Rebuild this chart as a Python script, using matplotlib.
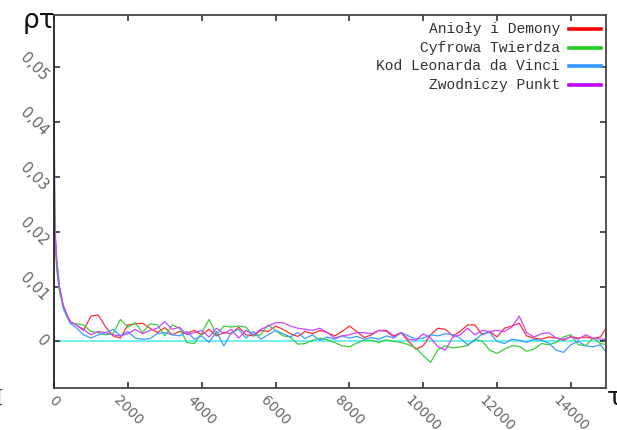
import numpy as np
import matplotlib
matplotlib.use("Agg")
import matplotlib.pyplot as plt

# lag values (tau) shared by all series
tau = [0, 25, 75, 150, 250, 350, 450, 600] + list(range(800, 15001, 200))

# autocorrelation values, in units of 1e-3
rho_aniol = [33, 20, 14, 9.5, 6.5, 4.8, 3.6, 3.0,
    2.0, 4.6, 4.8, 2.6, 1.0, 0.6, 3.0, 3.2, 3.3, 2.4, 1.6, 2.5, 1.2, 1.8, 1.5, 2.0,
    1.2, 2.2, 1.0, 1.6, 1.4, 2.6, 1.2, 1.0, 2.0, 1.8, 2.8, 2.2, 1.4, 0.9, 1.8, 1.4,
    2.0, 1.6, 1.0, 1.8, 2.8, 1.8, 0.7, 1.2, 2.0, 2.0, 1.0, 1.6, 0.0, -1.4, -0.8, 1.2,
    2.4, 2.2, 1.0, 1.8, 3.0, 3.0, 1.2, 1.8, 0.8, 2.4, 2.8, 3.3, 1.0, 0.6, 0.4, 0.8,
    0.6, 0.2, 0.9, 0.6, 0.8, 0.5, 0.8, 3.0]
rho_cyfrowa = [30, 19, 13, 9.0, 6.0, 4.5, 3.4, 3.2,
    3.0, 1.8, 1.6, 1.2, 1.4, 4.0, 2.6, 3.4, 1.6, 3.2, 3.0, 1.0, 3.0, 2.4, -0.2, -0.4,
    1.5, 4.0, 1.2, 2.8, 2.6, 2.8, 2.6, 1.0, 1.2, 3.0, 2.0, 1.0, 0.8, -0.5, -0.4, 0.2,
    0.6, 0.3, -0.2, -0.8, -1.0, -0.3, 0.2, 0.2, -0.2, 0.3, 0.0, -0.2, -0.6, -1.2, -2.6, -3.8,
    -1.5, -0.8, -1.2, -1.0, -0.8, 0.4, 0.0, -1.6, -2.2, -1.4, -0.8, -0.9, -1.8, -1.4, -0.4, -0.6,
    -0.2, 0.8, 1.2, -0.6, -0.8, 0.6, -0.4, -0.6]
rho_kod = [50, 21, 15, 10.0, 6.2, 4.6, 3.2, 2.5,
    1.2, 0.6, 1.2, 1.6, 2.2, 1.0, 1.8, 0.6, 0.4, 0.5, 1.4, 1.6, 1.2, 1.0, 1.8, 0.4,
    1.0, -0.2, 1.8, -0.8, 1.6, 2.2, 0.6, 1.8, 0.4, 1.2, 2.0, 1.4, 0.8, 1.6, 0.5, 1.2,
    0.2, 0.8, 0.4, 1.0, 0.6, 0.9, 0.4, 0.7, 0.4, 1.0, 0.6, 1.6, 1.0, 0.4, 0.6, 1.2,
    1.0, 1.4, 1.2, 0.6, -0.6, 0.2, 1.4, 1.6, 0.0, -0.4, 0.4, 0.2, -0.2, 0.4, 0.2, -0.3,
    -1.6, -2.0, -0.6, 0.0, -0.8, -1.0, -0.6, -2.4]
rho_zwodniczy = [43, 20, 14, 9.8, 6.6, 4.9, 3.5, 3.0,
    2.2, 1.2, 1.8, 1.6, 1.2, 1.0, 1.4, 2.2, 1.4, 2.0, 2.4, 3.6, 2.2, 2.6, 1.2, 1.6,
    2.0, 0.8, 2.4, 1.4, 2.2, 0.6, 2.0, 1.2, 2.2, 2.8, 3.4, 3.4, 2.8, 2.4, 2.2, 2.0,
    2.4, 1.6, 0.6, 1.0, 1.2, 1.6, 1.6, 1.4, 2.0, 1.8, 0.8, 1.6, 0.4, 0.2, 1.4, 0.6,
    -1.0, -1.6, 0.8, 1.2, 2.4, 1.2, 2.0, 1.8, 2.0, 1.8, 2.6, 4.6, 1.6, 0.8, 1.4, 1.6,
    0.6, 0.4, 0.8, 0.4, 1.2, 0.6, 0.4, 0.4]

titles = ["Anioły i Demony", "Cyfrowa Twierdza", "Kod Leonarda da Vinci", "Zwodniczy Punkt"]
series = [rho_aniol, rho_cyfrowa, rho_kod, rho_zwodniczy]
colors = ["#ff3030", "#3dcc3d", "#3d9bff", "#cc44ff"]
legend_colors = ["#ff0000", "#22cc22", "#3399ff", "#bb00ff"]

x_ticks = list(range(0, 14001, 2000))
y_ticks = [0, 0.01, 0.02, 0.03, 0.04, 0.05]
y_tick_labels = ["0", "0,01", "0,02", "0,03", "0,04", "0,05"]

W, H = 617, 430
fig = plt.figure(figsize=(W / 100, H / 100), dpi=100)
L, R, T, B = 54, 606, 15, 388
ax = fig.add_axes([L / W, 1 - B / H, (R - L) / W, (B - T) / H])

ax.axhline(0, color="#66eef2", lw=1.3, zorder=1)
for vals, c in zip(series, colors):
    ax.plot(tau, np.array(vals) * 1e-3, color=c, lw=0.9, zorder=2)

ax.set_xlim(0, 14950)
ax.set_ylim(-0.0085, 0.0595)

ax.set_xticks(x_ticks)
ax.set_xticklabels([str(v) for v in x_ticks])
ax.set_yticks(y_ticks)
ax.set_yticklabels(y_tick_labels)
ax.tick_params(direction="in", length=4, width=1.2, top=True, right=True,
               colors="#333333", labelcolor="#666666", labelsize=10.5)
ax.tick_params(axis="x", pad=4, labelsize=10)
ax.tick_params(axis="y", pad=2)
for lab in ax.get_xticklabels():
    lab.set_rotation(-45)
    lab.set_ha("center")
    lab.set_va("top")
for lab in ax.get_yticklabels():
    lab.set_rotation(-45)
    lab.set_ha("right")
    lab.set_va("center")

for s in ax.spines.values():
    s.set_color("#444444")
    s.set_linewidth(1.3)
ax.spines["left"].set_color("#222222")

# legend drawn as right-aligned mono text with colour samples
for i, (t, c) in enumerate(zip(titles, legend_colors)):
    y = 1 - (29 + i * 18.7) / H
    fig.text(560 / W, y, t, ha="right", va="center", family="Liberation Mono",
             fontsize=10.5, color="#333333")
    fig.add_artist(plt.Line2D([569 / W, 601 / W], [y, y], color=c, lw=2.6,
                              transform=fig.transFigure))

fig.text(39 / W, 1 - 21 / H, "ρτ", ha="center", va="center", fontsize=19, color="#111111")
fig.text(607 / W, 1 - 398 / H, "τ", ha="left", va="center", fontsize=18, color="#111111")
fig.text(-3 / W, 1 - 398 / H, "[", ha="left", va="center", fontsize=13, color="#555555")

fig.savefig("out.png", dpi=100)
